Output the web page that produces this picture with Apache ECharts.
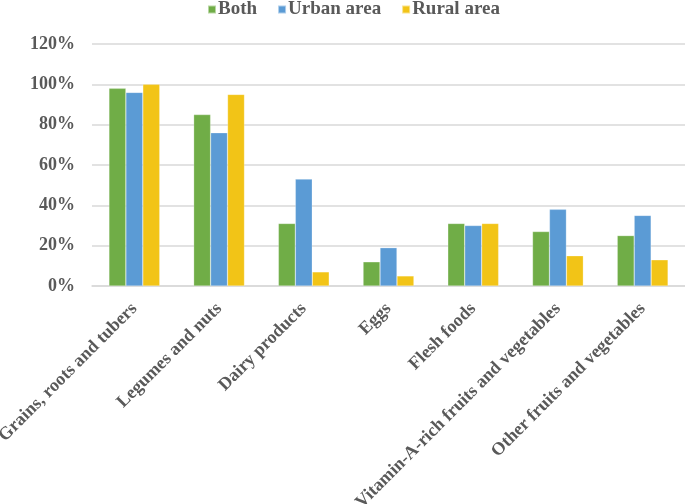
<!DOCTYPE html>
<html><head><meta charset="utf-8">
<script src="https://cdn.jsdelivr.net/npm/echarts@6/dist/echarts.min.js"></script>
<style>html,body{margin:0;padding:0;background:#fff}#c{width:685px;height:504px}</style>
</head><body><div id="c"></div>
<script>
const categories = ["Grains, roots and tubers","Legumes and nuts","Dairy products","Eggs","Flesh foods","Vitamin-A-rich fruits and vegetables","Other fruits and vegetables"];
const seriesNames = ["Both","Urban area","Rural area"];
const both = [98, 85, 31, 12, 31, 27, 25];
const urban = [96, 76, 53, 19, 30, 38, 35];
const rural = [100, 95, 7, 5, 31, 15, 13];
const colors = ["#70AD47","#5B9BD5","#F2C417"];
const font = "'Liberation Serif', 'Times New Roman', serif";
const chart = echarts.init(document.getElementById('c'));
const data = [both, urban, rural];
chart.setOption({
  animation: false,
  textStyle: {fontFamily: font},
  legend: {
    top: -5, left: 202, itemWidth: 8, itemHeight: 8, itemGap: 20,
    icon: 'rect',
    textStyle: {fontFamily: font, fontWeight: 'bold', fontSize: 19, color: '#595959', padding: [0,0,0,-3]},
    data: seriesNames
  },
  grid: {left: 92, right: 0, top: 44, bottom: 218, containLabel: false, outerBoundsMode: 'none'},
  xAxis: {
    type: 'category', data: categories,
    axisLine: {lineStyle: {color: '#d9d9d9', width: 1.5}},
    axisTick: {show: false},
    axisLabel: {rotate: 45, interval: 0, margin: 20, fontFamily: font, fontWeight: 'bold', fontSize: 18, color: '#595959'}
  },
  yAxis: {
    type: 'value', min: 0, max: 120, interval: 20,
    axisLine: {show: false}, axisTick: {show: false},
    splitLine: {lineStyle: {color: '#d9d9d9', width: 1.5}},
    axisLabel: {formatter: '{value}%', margin: 17, fontFamily: font, fontWeight: 'bold', fontSize: 18, color: '#595959'}
  },
  series: seriesNames.map((n, i) => ({
    name: n, type: 'bar', data: data[i], barGap: '0%', barCategoryGap: '40%',
    itemStyle: {color: colors[i], borderColor: 'rgba(255,255,255,0.5)', borderWidth: 0.5}
  }))
});
</script></body></html>
